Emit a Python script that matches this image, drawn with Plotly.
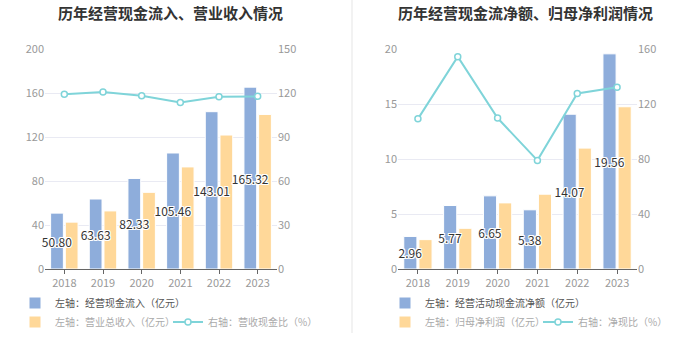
import plotly.graph_objects as go

years = ["2018", "2019", "2020", "2021", "2022", "2023"]

# Left panel
cash_inflow = [50.80, 63.63, 82.33, 105.46, 143.01, 165.32]
revenue = [42.6, 52.8, 69.7, 92.8, 121.8, 140.5]
cash_rev_ratio = [119.2, 120.6, 118.1, 113.6, 117.4, 117.7]

# Right panel
op_cash_net = [2.96, 5.77, 6.65, 5.38, 14.07, 19.56]
net_profit = [2.67, 3.70, 6.01, 6.80, 10.99, 14.75]
net_cash_ratio = [109.2, 154.4, 109.8, 79.0, 127.7, 132.1]

title_left = "历年经营现金流入、营业收入情况"
title_right = "历年经营现金流净额、归母净利润情况"

FONT = "Noto Sans CJK SC, sans-serif"
BLUE = "#8eaddb"
ORANGE = "#ffd899"
CYAN = "#7fd4d9"
SHADOW = ("1px 1px 0 #fff, -1px -1px 0 #fff, 1px -1px 0 #fff, -1px 1px 0 #fff, "
          "0 1px 0 #fff, 0 -1px 0 #fff, 1px 0 0 #fff, -1px 0 0 #fff")

BW = 0.33          # bar width (category units)
OFF_BLUE = -0.355  # left edge offset of blue bar
OFF_ORANGE = 0.025 # left edge offset of orange bar

fig = go.Figure()

def bar_label_font():
    return dict(family=FONT, size=12, color="#333", shadow=SHADOW)

def add_panel(xa, ya, ya2, blue_vals, orange_vals, ratio_vals, names, legs):
    # orange first so that the blue bar labels are drawn on top of it
    fig.add_trace(go.Bar(x=years, y=orange_vals, name=names[1],
                         width=BW, offset=OFF_ORANGE,
                         marker=dict(color=ORANGE, line=dict(color="white", width=1)),
                         xaxis=xa, yaxis=ya, legend=legs[1], legendrank=2))
    fig.add_trace(go.Bar(x=years, y=blue_vals, name=names[0],
                         width=BW, offset=OFF_BLUE, cliponaxis=False,
                         marker=dict(color=BLUE, line=dict(color="white", width=1)),
                         text=[f"{v:.2f}" for v in blue_vals], textposition="inside",
                         insidetextanchor="middle", textangle=0, constraintext="none",
                         textfont=bar_label_font(),
                         xaxis=xa, yaxis=ya, legend=legs[0], legendrank=1))
    fig.add_trace(go.Scatter(x=years, y=ratio_vals, name=names[2],
                             mode="lines+markers",
                             line=dict(color=CYAN, width=2),
                             marker=dict(symbol="circle", size=6, color="white",
                                         line=dict(color=CYAN, width=1.5)),
                             xaxis=xa, yaxis=ya2, legend=legs[1], legendrank=3))

add_panel("x", "y", "y2", cash_inflow, revenue, cash_rev_ratio,
          ["左轴：经营现金流入（亿元）", "左轴：营业总收入（亿元）", "右轴：营收现金比（%）"],
          ["legend", "legend2"])
add_panel("x2", "y3", "y4", op_cash_net, net_profit, net_cash_ratio,
          ["左轴：经营活动现金流净额（亿元）", "左轴：归母净利润（亿元）", "右轴：净现比（%）"],
          ["legend3", "legend4"])

ydom = [1 - 269 / 360, 1 - 49 / 360]
tickfont = dict(family=FONT, size=11, color="#999")

xcommon = dict(type="category", showgrid=False, showline=True, linecolor="#666",
               linewidth=1, ticks="outside", ticklen=4, tickcolor="#666",
               tickfont=tickfont, zeroline=False, fixedrange=True, automargin=False)
ycommon = dict(showline=False, zeroline=False, tickfont=tickfont, ticks="",
               fixedrange=True, automargin=False)

legend_common = dict(orientation="h", font=dict(family=FONT, size=10, color="#555"),
                     bgcolor="rgba(0,0,0,0)", yanchor="middle", xanchor="left",
                     itemclick=False, itemdoubleclick=False, tracegroupgap=0,
                     traceorder="normal")
legend_light = dict(legend_common, font=dict(family=FONT, size=10, color="#aaa"),
                    entrywidth=108, entrywidthmode="pixels")

fig.update_layout(
    width=700, height=360,
    margin=dict(l=0, r=0, t=0, b=0, autoexpand=False),
    paper_bgcolor="white", plot_bgcolor="white",
    barmode="overlay",
    font=dict(family=FONT),
    xaxis=dict(xcommon, domain=[45 / 700, 277 / 700], anchor="y"),
    yaxis=dict(ycommon, domain=ydom, range=[0, 200], dtick=40, showgrid=True,
               gridcolor="#e9eaf3", anchor="x"),
    yaxis2=dict(ycommon, overlaying="y", side="right", range=[0, 150], dtick=30,
                showgrid=False, anchor="x"),
    xaxis2=dict(xcommon, domain=[398 / 700, 637 / 700], anchor="y3"),
    yaxis3=dict(ycommon, domain=ydom, range=[0, 20], dtick=5, showgrid=True,
                gridcolor="#e9eaf3", anchor="x2"),
    yaxis4=dict(ycommon, overlaying="y3", side="right", range=[0, 160], dtick=40,
                showgrid=False, anchor="x2"),
    legend=dict(legend_common, x=15 / 700, y=1 - 303 / 360),
    legend2=dict(legend_light, x=15 / 700, y=1 - 322 / 360),
    legend3=dict(legend_common, x=385 / 700, y=1 - 303 / 360),
    legend4=dict(legend_light, x=385 / 700, y=1 - 322 / 360),
    showlegend=True,
    annotations=[
        dict(text=f"<b>{title_left}</b>", x=170 / 700, y=1 - 13 / 360, xref="paper",
             yref="paper", showarrow=False, xanchor="center", yanchor="middle",
             font=dict(family=FONT, size=15, color="#333")),
        dict(text=f"<b>{title_right}</b>", x=525 / 700, y=1 - 13 / 360, xref="paper",
             yref="paper", showarrow=False, xanchor="center", yanchor="middle",
             font=dict(family=FONT, size=15, color="#333")),
    ],
    shapes=[
        dict(type="line", xref="paper", yref="paper", x0=352 / 700, x1=352 / 700,
             y0=1 - 333 / 360, y1=1, line=dict(color="#f2f2f2", width=2)),
    ],
)

fig.write_html("out.html", config={"displayModeBar": False},
               post_script="document.body.style.margin='0';")
